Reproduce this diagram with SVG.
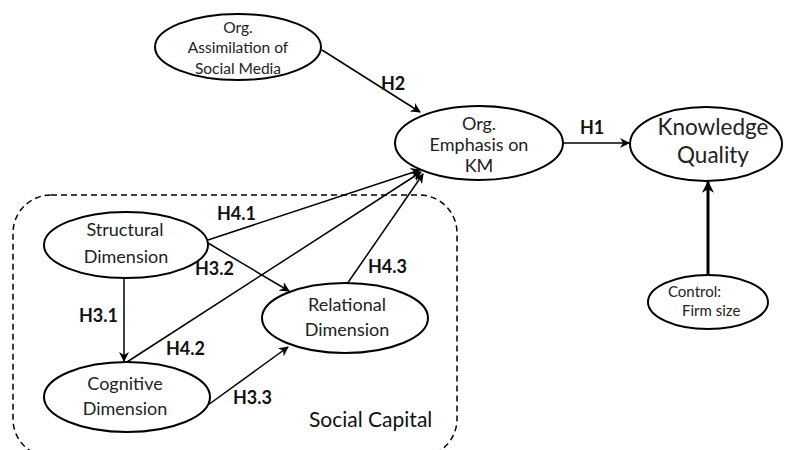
<svg xmlns="http://www.w3.org/2000/svg" width="785" height="450" viewBox="0 0 785 450">
<defs>
<marker id="ah" viewBox="0 0 10 10" refX="9" refY="5" markerWidth="10" markerHeight="10" markerUnits="userSpaceOnUse" orient="auto">
<path d="M0,0 L10,5 L0,10 L3,5 Z" fill="#000"/>
</marker>
<marker id="ahb" viewBox="0 0 10 10" refX="9" refY="5" markerWidth="12" markerHeight="12" markerUnits="userSpaceOnUse" orient="auto">
<path d="M0,0 L10,5 L0,10 L3,5 Z" fill="#000"/>
</marker>
</defs>
<style>
.n{fill:#fff;stroke:#000;stroke-width:2}
.t{font-family:Lato,"Open Sans",sans-serif;font-size:18px;fill:#222;text-anchor:middle}
.s{font-size:15.5px}
.cs{font-size:15px;text-anchor:start}
.tb{font-family:Lato,"Open Sans",sans-serif;font-size:22.5px;fill:#222;text-anchor:middle}
.l{font-family:Lato,"Open Sans",sans-serif;font-size:18px;font-weight:bold;fill:#111}
.c{stroke:#000;stroke-width:1.5;fill:none;marker-end:url(#ah)}
</style>
<rect width="785" height="450" fill="#fff"/>
<g id="social-capital">
<rect x="13" y="195" width="444" height="262" rx="38" fill="none" stroke="#000" stroke-width="1.5" stroke-dasharray="6,4"/>
<text x="309" y="427" font-family="Lato,'Open Sans',sans-serif" font-size="21" fill="#111">Social Capital</text>
</g>
<g id="connectors">
<line class="c" x1="322" y1="50" x2="420" y2="112"/>
<line class="c" x1="563" y1="143" x2="629" y2="143"/>
<line x1="708" y1="275" x2="708" y2="182" stroke="#000" stroke-width="3" marker-end="url(#ahb)"/>
<line class="c" x1="208" y1="240" x2="420" y2="170"/>
<line class="c" x1="127" y1="362" x2="421" y2="172"/>
<line class="c" x1="347" y1="284" x2="423" y2="174"/>
<line class="c" x1="208" y1="243" x2="289" y2="291"/>
<line class="c" x1="124" y1="277" x2="124" y2="361"/>
<line class="c" x1="208" y1="405" x2="288" y2="347"/>
<text class="l" x="381" y="90">H2</text>
<text class="l" x="580" y="134">H1</text>
<text class="l" x="217" y="220">H4.1</text>
<text class="l" x="195" y="275">H3.2</text>
<text class="l" x="368" y="273">H4.3</text>
<text class="l" x="79" y="322">H3.1</text>
<text class="l" x="166" y="355">H4.2</text>
<text class="l" x="233" y="404">H3.3</text>
</g>
<g id="org-assimilation">
<ellipse class="n" cx="238" cy="47" rx="83" ry="33"/>
<text class="t s" x="238" y="33">Org.</text>
<text class="t s" x="238" y="53">Assimilation of</text>
<text class="t s" x="238" y="74">Social Media</text>
</g>
<g id="org-emphasis">
<ellipse class="n" cx="479" cy="143" rx="84" ry="37"/>
<text class="t" x="479" y="130">Org.</text>
<text class="t" x="479" y="151">Emphasis on</text>
<text class="t" x="479" y="172">KM</text>
</g>
<g id="knowledge-quality">
<ellipse class="n" cx="706" cy="144" rx="76" ry="37"/>
<text class="tb" x="713" y="135">Knowledge</text>
<text class="tb" x="713" y="163">Quality</text>
</g>
<g id="control">
<ellipse class="n" cx="708" cy="302" rx="60" ry="27"/>
<text class="t cs" x="668" y="297">Control:</text>
<text class="t cs" x="682" y="316">Firm size</text>
</g>
<g id="structural">
<ellipse class="n" cx="126" cy="245" rx="82" ry="33"/>
<text class="t" x="125" y="236">Structural</text>
<text class="t" x="126" y="263">Dimension</text>
</g>
<g id="relational">
<ellipse class="n" cx="345" cy="318" rx="83" ry="35"/>
<text class="t" x="347" y="311">Relational</text>
<text class="t" x="347" y="336">Dimension</text>
</g>
<g id="cognitive">
<ellipse class="n" cx="127" cy="397" rx="83" ry="35"/>
<text class="t" x="125" y="390">Cognitive</text>
<text class="t" x="125" y="415">Dimension</text>
</g>
</svg>
